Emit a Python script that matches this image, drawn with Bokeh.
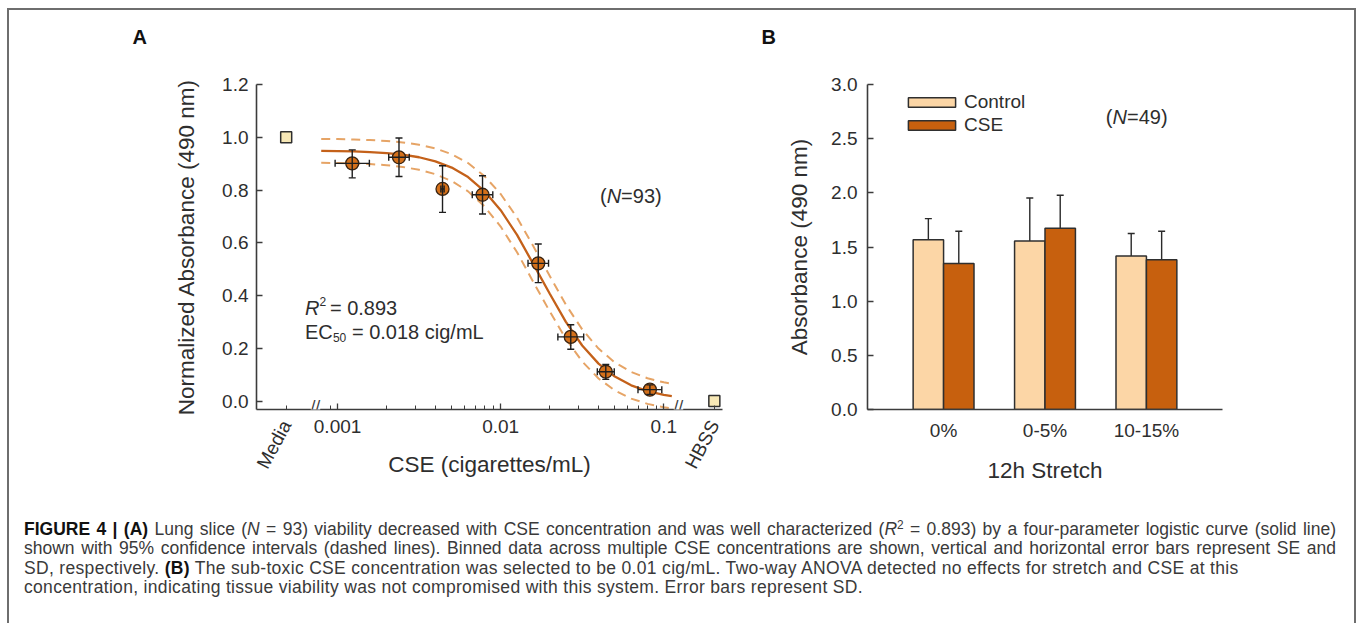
import math
import numpy as np
from bokeh.plotting import figure
from bokeh.layouts import row, column
from bokeh.models import (ColumnDataSource, Whisker, TeeHead, FixedTicker, PrintfTickFormatter,
                          CustomJSTickFormatter, Label, Legend, LegendItem, Div, Range1d,
                          LogAxis, Title)
from bokeh.embed import file_html
from bokeh.resources import INLINE

# ------------------------------------------------------------------ data, panel A
conc_bins = [0.00123, 0.00238, 0.0044, 0.00774, 0.0170, 0.0269, 0.0441, 0.0822]
norm_abs = [0.901, 0.924, 0.804, 0.782, 0.522, 0.243, 0.111, 0.043]
se_lower = [0.846, 0.851, 0.715, 0.709, 0.449, 0.196, 0.082, 0.025]
se_upper = [0.952, 0.997, 0.892, 0.854, 0.595, 0.289, 0.139, 0.061]
sd_lower = [0.000966, 0.002059, 0.00430, 0.006696, 0.01471, 0.02242, 0.03913, 0.06948]
sd_upper = [0.001567, 0.002751, 0.00450, 0.008947, 0.01965, 0.03228, 0.04970, 0.09725]
media_value = 1.0
hbss_value = 0.0

fit_x = [0.000794, 0.001, 0.00126, 0.00158, 0.002, 0.00251, 0.00316, 0.00398, 0.00501,
         0.00631, 0.00794, 0.01, 0.0126, 0.0158, 0.02, 0.0251, 0.0316, 0.0398, 0.0501,
         0.0631, 0.0794, 0.1, 0.112]
fit_y = [0.9485, 0.9476, 0.9462, 0.9438, 0.9400, 0.9339, 0.9242, 0.9088, 0.8850, 0.8489,
         0.7962, 0.7234, 0.6299, 0.5208, 0.4066, 0.2999, 0.2104, 0.1417, 0.0927, 0.0594,
         0.0375, 0.0235, 0.0185]
ci_upper = [0.9937, 0.9929, 0.9915, 0.9894, 0.9859, 0.9804, 0.9715, 0.9575, 0.9356, 0.9023,
            0.8532, 0.7847, 0.6951, 0.5884, 0.4742, 0.3651, 0.2716, 0.1988, 0.1461, 0.1100,
            0.0862, 0.0708, 0.0654]
ci_lower = [0.9034, 0.9024, 0.9008, 0.8982, 0.8940, 0.8873, 0.8767, 0.8599, 0.8339, 0.7948,
            0.7383, 0.6613, 0.5640, 0.4530, 0.3393, 0.2354, 0.1500, 0.0855, 0.0399, 0.0092,
            -0.0108, -0.0236, -0.0281]

a_x_ticks = [0.001, 0.01, 0.1]
a_x_tick_labels = ["0.001", "0.01", "0.1"]
a_y_ticks = [0.0, 0.2, 0.4, 0.6, 0.8, 1.0, 1.2]
group_labels = ["Media", "HBSS"]

# ------------------------------------------------------------------ data, panel B
stretch = ["0%", "0-5%", "10-15%"]
control_mean = [1.568, 1.556, 1.417]
control_sd = [0.194, 0.397, 0.207]
cse_mean = [1.347, 1.673, 1.383]
cse_sd = [0.298, 0.305, 0.262]
b_y_ticks = [0.0, 0.5, 1.0, 1.5, 2.0, 2.5, 3.0]

# ------------------------------------------------------------------ style
FONT = "Liberation Sans"
TXT = "#2e2e2e"
AXC = "#3c3c3c"
ORANGE = "#d4701a"
CURVE = "#c4611a"
DASH = "#e6a466"
CTRL_FILL = "#fcd6a6"
CSE_FILL = "#c7600e"
EDGE = "#2f2f2f"

# positions of the two control groups on the broken log axis
media_x = 10 ** -3.315
hbss_x = 10 ** -0.690
group_x = [media_x, hbss_x]


def style_axis(ax):
    ax.axis_line_color = AXC
    ax.axis_line_width = 1.6
    ax.major_tick_line_color = AXC
    ax.major_tick_line_width = 1.3
    ax.minor_tick_line_color = AXC
    ax.major_tick_in = 6
    ax.major_tick_out = 0
    ax.minor_tick_in = 4
    ax.minor_tick_out = 0
    ax.major_label_text_font = FONT
    ax.major_label_text_font_size = "19px"
    ax.major_label_text_color = TXT
    ax.axis_label_text_font = FONT
    ax.axis_label_text_font_size = "22.5px"
    ax.axis_label_text_font_style = "normal"
    ax.axis_label_text_color = TXT


def style_fig(p):
    style_axis(p.xaxis[0])
    style_axis(p.yaxis[0])
    p.xgrid.visible = False
    p.ygrid.visible = False
    p.outline_line_color = None


def lab(p, x, y, text, size="20px", style="normal", xo=0, align="left",
        baseline="middle", color=TXT):
    p.add_layout(Label(x=x, y=y, x_offset=xo, text=text, text_font=FONT,
                       text_font_size=size, text_font_style=style, text_align=align,
                       text_baseline=baseline, text_color=color))


def panel_title(p, text, offset):
    # an empty spacer title keeps the panel letter well above the frame
    p.add_layout(Title(text=" ", text_font=FONT, text_font_size="10px", standoff=22), "above")
    p.title.text = text
    p.title.align = "left"
    p.title.offset = offset
    p.title.standoff = 4
    p.title.text_font = FONT
    p.title.text_font_size = "20px"
    p.title.text_font_style = "bold"
    p.title.text_color = "#111"


# ================================================================== panel A
pA = figure(x_axis_type="log", output_backend="svg", toolbar_location=None,
            frame_width=466, frame_height=325,
            min_border_left=247, min_border_right=18, min_border_top=74, min_border_bottom=91,
            x_range=Range1d(10 ** -3.497, 10 ** -0.640), y_range=Range1d(-0.0322, 1.2),
            x_axis_label="CSE (cigarettes/mL)",
            y_axis_label="Normalized Absorbance (490 nm)")
style_fig(pA)
panel_title(pA, "A", -124)
minor = [0.0009] + [k * 0.001 for k in range(2, 10)] + [k * 0.01 for k in range(2, 10)]
pA.xaxis[0].ticker = FixedTicker(ticks=a_x_ticks, minor_ticks=minor + group_x)
pA.xaxis[0].formatter = CustomJSTickFormatter(
    args=dict(vals=a_x_ticks, labs=a_x_tick_labels),
    code="""for (let i = 0; i < vals.length; i++) {
              if (Math.abs(vals[i] - tick) < vals[i] * 1e-6) return labs[i];
            }
            return '';""")
pA.xaxis[0].major_label_standoff = 10
pA.xaxis[0].axis_label_standoff = 16
pA.yaxis[0].ticker = FixedTicker(ticks=a_y_ticks, minor_ticks=[])
pA.yaxis[0].formatter = PrintfTickFormatter(format="%.1f")
pA.yaxis[0].major_label_standoff = 8
pA.yaxis[0].axis_label_standoff = 20

# second bottom axis carrying only the rotated Media / HBSS group labels
ax_groups = LogAxis(ticker=FixedTicker(ticks=group_x, minor_ticks=[]),
                    formatter=CustomJSTickFormatter(
                        args=dict(vals=group_x, labs=group_labels),
                        code="""for (let i = 0; i < vals.length; i++) {
                                  if (Math.abs(vals[i] - tick) < vals[i] * 1e-6) return labs[i];
                                }
                                return '';"""))
style_axis(ax_groups)
ax_groups.axis_line_color = None
ax_groups.major_tick_line_color = None
ax_groups.major_label_orientation = math.radians(62)
ax_groups.major_label_standoff = -58
pA.add_layout(ax_groups, "below")

pA.line(fit_x, ci_upper, line_color=DASH, line_width=2, line_dash="9 6")
pA.line(fit_x, ci_lower, line_color=DASH, line_width=2, line_dash="9 6")
pA.line(fit_x, fit_y, line_color=CURVE, line_width=2.3)

srcA = ColumnDataSource(dict(x=conc_bins, y=norm_abs, ylo=se_lower, yhi=se_upper,
                             xlo=sd_lower, xhi=sd_upper))
for dim, base, lo, hi in (("height", "x", "ylo", "yhi"), ("width", "y", "xlo", "xhi")):
    pA.add_layout(Whisker(source=srcA, base=base, lower=lo, upper=hi, dimension=dim,
                          line_color="#1e1e1e", line_width=1.4, level="glyph",
                          upper_head=TeeHead(size=7, line_color="#1e1e1e", line_width=1.4),
                          lower_head=TeeHead(size=7, line_color="#1e1e1e", line_width=1.4)))
pA.scatter("x", "y", source=srcA, marker="circle", size=13, fill_color=ORANGE,
           line_color="#3a2412", line_width=1.3)
pA.scatter(group_x, [media_value, hbss_value], marker="square", size=11,
           fill_color="#f7e8b6", line_color="#2f2f2f", line_width=1.5)

# axis breaks (frame-relative screen units)
for bx in (59, 422):
    pA.add_layout(Label(x=bx, y=3, x_units="screen", y_units="screen", text="//",
                        text_font=FONT, text_font_size="17px", text_color=AXC,
                        text_align="center", text_baseline="middle",
                        background_fill_color="white", padding=0))

# annotations
lab(pA, 10 ** -1.391, 0.776, "(", xo=0)
lab(pA, 10 ** -1.391, 0.776, "N", style="italic", xo=6.7)
lab(pA, 10 ** -1.391, 0.776, "=93)", xo=21.1)
lab(pA, 10 ** -3.200, 0.351, "R", style="italic")
lab(pA, 10 ** -3.200, 0.351 + 0.028, "2", size="12px", xo=14.6)
lab(pA, 10 ** -3.200, 0.351, "= 0.893", xo=25)
lab(pA, 10 ** -3.200, 0.261, "EC")
lab(pA, 10 ** -3.200, 0.261 - 0.020, "50", size="12px", xo=28)
lab(pA, 10 ** -3.200, 0.261, "= 0.018 cig/mL", xo=47)

# ================================================================== panel B
pB = figure(output_backend="svg", toolbar_location=None,
            frame_width=355, frame_height=325,
            min_border_left=127, min_border_right=132, min_border_top=74, min_border_bottom=91,
            x_range=Range1d(-0.75, 2.75), y_range=Range1d(0, 3.0),
            x_axis_label="12h Stretch", y_axis_label="Absorbance (490 nm)")
style_fig(pB)
panel_title(pB, "B", -106)
xb = np.arange(len(stretch))
pB.xaxis[0].ticker = FixedTicker(ticks=list(xb), minor_ticks=[])
pB.xaxis[0].major_label_overrides = {int(i): s for i, s in zip(xb, stretch)}
pB.xaxis[0].major_tick_line_color = None
pB.xaxis[0].major_label_standoff = 10
pB.xaxis[0].axis_label_standoff = 14
pB.yaxis[0].ticker = FixedTicker(ticks=b_y_ticks, minor_ticks=[])
pB.yaxis[0].formatter = PrintfTickFormatter(format="%.1f")
pB.yaxis[0].major_label_standoff = 10
pB.yaxis[0].axis_label_standoff = 16

src_c = ColumnDataSource(dict(x=xb - 0.15, top=control_mean,
                              upper=np.add(control_mean, control_sd)))
src_s = ColumnDataSource(dict(x=xb + 0.15, top=cse_mean,
                              upper=np.add(cse_mean, cse_sd)))
for src in (src_c, src_s):
    pB.add_layout(Whisker(source=src, base="x", lower="top", upper="upper",
                          dimension="height", line_color="#2a2a2a", line_width=1.4,
                          lower_head=None,
                          upper_head=TeeHead(size=7, line_color="#2a2a2a", line_width=1.4)))
r_c = pB.vbar(x="x", top="top", bottom=0, width=0.3, source=src_c, fill_color=CTRL_FILL,
              line_color=EDGE, line_width=1.5)
r_s = pB.vbar(x="x", top="top", bottom=0, width=0.3, source=src_s, fill_color=CSE_FILL,
              line_color=EDGE, line_width=1.5)

leg = Legend(items=[LegendItem(label="Control", renderers=[r_c]),
                    LegendItem(label="CSE", renderers=[r_s])],
             location=(35, 273), orientation="vertical",
             glyph_width=59, glyph_height=12, label_standoff=3, label_height=20,
             spacing=1, padding=0, margin=0,
             label_text_font=FONT, label_text_font_size="19px", label_text_color=TXT,
             border_line_alpha=0, background_fill_alpha=0)
pB.add_layout(leg)

lab(pB, 1.600, 2.699, "(", xo=0)
lab(pB, 1.600, 2.699, "N", style="italic", xo=6.7)
lab(pB, 1.600, 2.699, "=49)", xo=21.1)

# ================================================================== caption
lines = [
    '<b style="color:#111">FIGURE 4 | (A)</b> Lung slice (<i>N</i> = 93) viability decreased '
    'with CSE concentration and was well characterized (<i>R</i><sup>2</sup> = 0.893) by a '
    'four-parameter logistic curve (solid line)',
    'shown with 95% confidence intervals (dashed lines). Binned data across multiple CSE '
    'concentrations are shown, vertical and horizontal error bars represent SE and',
    'SD, respectively. <b style="color:#111">(B)</b> The sub-toxic CSE concentration was '
    'selected to be 0.01 cig/mL. Two-way ANOVA detected no effects for stretch and CSE at this',
    'concentration, indicating tissue viability was not compromised with this system. '
    'Error bars represent SD.',
]
line_styles = ["text-align:justify;text-align-last:justify;",
               "text-align:justify;text-align-last:justify;",
               "letter-spacing:0.32px;",
               "letter-spacing:0.32px;"]
html = ('<div style="box-sizing:border-box;font-family:\'Liberation Sans\',Arial,sans-serif;'
        'font-size:17.5px;line-height:19.4px;color:#3a3a3a;padding:20px 18px 0 15px;'
        'width:1345px;">')
for ln, st in zip(lines, line_styles):
    html += f'<div style="white-space:nowrap;{st}">{ln}</div>'
html += '</div>'
html = html.replace('<sup>', '<sup style="font-size:0.68em;line-height:0;vertical-align:0.5em">')
cap = Div(text=html, width=1345, height=123, margin=(0, 0, 0, 0))

layout = column(row(pA, pB), cap, margin=(8, 0, 0, 7),
                styles={"border-top": "2px solid #6e6e6e", "border-left": "2px solid #6e6e6e",
                        "border-right": "2px solid #6e6e6e"})

open("out.html", "w").write(file_html(layout, INLINE))
